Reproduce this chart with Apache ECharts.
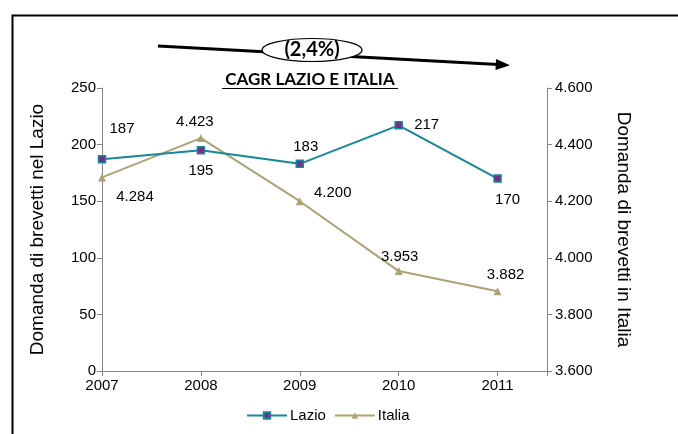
<!DOCTYPE html>
<html>
<head>
<meta charset="utf-8">
<script src="https://cdn.jsdelivr.net/npm/echarts@6/dist/echarts.min.js"></script>
<style>
  html, body { margin: 0; padding: 0; background: #fff; }
  #chart { width: 678px; height: 434px; }
</style>
</head>
<body>
<div id="chart"></div>
<script>
// Patent applications: Lazio (left axis) vs Italia (right axis)
const years = [2007, 2008, 2009, 2010, 2011];
const lazio = [187, 195, 183, 217, 170];
const italia = [4284, 4423, 4200, 3953, 3882];

// where each value label sits relative to its point (pixels)
const lazioLabelOffsets = [[20, -30], [0, 21], [6, -17], [28, 0], [10, 21]];
const italiaLabelOffsets = [[33, 19], [-6, -16], [33, -8], [1, -14], [8, -16]];

const FONT = '"Liberation Sans", Arial, sans-serif';
const TITLE_FONT = 'Lato, "Open Sans", sans-serif';
const AXIS_GREY = '#868686';
const TEAL = '#17879a';
const PURPLE = '#7a2a87';
const KHAKI = '#ada277';

// thousands with a dot, Italian style
function fmtIt(v) {
  const s = String(Math.round(v));
  return s.replace(/\B(?=(\d{3})+(?!\d))/g, '.');
}

const chart = echarts.init(document.getElementById('chart'), null, { renderer: 'canvas' });

const lazioData = years.map((y, i) => ({
  value: [y, lazio[i]],
  label: { offset: lazioLabelOffsets[i] }
}));
const italiaData = years.map((y, i) => ({
  value: [y, italia[i]],
  label: { offset: italiaLabelOffsets[i] }
}));

chart.setOption({
  animation: false,
  backgroundColor: '#ffffff',
  grid: { left: 102, right: 131, top: 88, bottom: 63, containLabel: false },
  legend: {
    left: 241,
    top: 403,
    itemWidth: 40,
    itemHeight: 8,
    itemGap: 8,
    textStyle: { fontFamily: FONT, fontSize: 15, color: '#000', padding: [0, 0, 0, -2] },
    data: ['Lazio', 'Italia']
  },
  xAxis: {
    type: 'value',
    min: 2007,
    max: 2011.5,
    interval: 1,
    axisLine: { lineStyle: { color: AXIS_GREY, width: 1 } },
    axisTick: { show: true, length: 5, lineStyle: { color: AXIS_GREY } },
    axisLabel: {
      margin: 7,
      fontFamily: FONT, fontSize: 15, color: '#000',
      formatter: v => (Number.isInteger(v) ? String(v) : '')
    },
    splitLine: { show: false }
  },
  yAxis: [
    {
      type: 'value',
      min: 0, max: 250, interval: 50,
      position: 'left',
      name: 'Domanda di brevetti nel Lazio',
      nameLocation: 'middle',
      nameGap: 55,
      nameTextStyle: { fontFamily: FONT, fontSize: 19, color: '#000' },
      axisLine: { show: true, lineStyle: { color: AXIS_GREY } },
      axisTick: { show: true, length: 5, lineStyle: { color: AXIS_GREY } },
      axisLabel: { margin: 6, fontFamily: FONT, fontSize: 15, color: '#000' },
      splitLine: { show: false }
    },
    {
      type: 'value',
      min: 3600, max: 4600, interval: 200,
      position: 'right',
      name: 'Domanda di brevetti in Italia',
      nameLocation: 'middle',
      nameGap: 67,
      nameRotate: -90,
      nameTextStyle: { fontFamily: FONT, fontSize: 19, color: '#000' },
      axisLine: { show: true, lineStyle: { color: AXIS_GREY } },
      axisTick: { show: true, length: 5, lineStyle: { color: AXIS_GREY } },
      axisLabel: { margin: 8, fontFamily: FONT, fontSize: 15, color: '#000', formatter: fmtIt },
      splitLine: { show: false }
    }
  ],
  series: [
    {
      name: 'Lazio',
      type: 'line',
      yAxisIndex: 0,
      data: lazioData,
      symbol: 'rect',
      symbolSize: 7,
      lineStyle: { color: TEAL, width: 2 },
      itemStyle: { color: PURPLE, borderColor: TEAL, borderWidth: 1.5 },
      label: {
        show: true,
        position: 'inside',
        fontFamily: FONT, fontSize: 15, color: '#000',
        formatter: p => fmtIt(p.value[1])
      },
      z: 3
    },
    {
      name: 'Italia',
      type: 'line',
      yAxisIndex: 1,
      data: italiaData,
      symbol: 'triangle',
      symbolSize: 8,
      lineStyle: { color: KHAKI, width: 2 },
      itemStyle: { color: KHAKI, borderColor: KHAKI, borderWidth: 0 },
      label: {
        show: true,
        position: 'inside',
        fontFamily: FONT, fontSize: 15, color: '#000',
        formatter: p => fmtIt(p.value[1])
      },
      z: 2
    }
  ],
  graphic: [
    // outer frame
    {
      type: 'rect', left: 10, top: 13, silent: true,
      shape: { x: 0, y: 0, width: 720, height: 460 },
      style: { fill: 'none', stroke: '#000', lineWidth: 2 }
    },
    // trend arrow
    {
      type: 'line', silent: true,
      shape: { x1: 158, y1: 46, x2: 498, y2: 64.5 },
      style: { stroke: '#000', lineWidth: 3 }
    },
    {
      type: 'polygon', silent: true,
      shape: { points: [[510, 65.3], [496, 59], [495.5, 70]] },
      style: { fill: '#000' }
    },
    // CAGR bubble
    {
      type: 'ellipse', silent: true,
      shape: { cx: 312, cy: 50, rx: 50, ry: 11.5 },
      style: { fill: '#fff', stroke: '#000', lineWidth: 1.2 }
    },
    {
      type: 'text', silent: true,
      x: 312, y: 50,
      style: {
        text: '(2,4%)', fill: '#000',
        font: 'bold 20px ' + TITLE_FONT,
        align: 'center', verticalAlign: 'middle'
      }
    },
    // title
    {
      type: 'text', silent: true,
      x: 310, y: 80,
      style: {
        text: 'CAGR LAZIO E ITALIA', fill: '#000',
        font: 'bold 17px ' + TITLE_FONT,
        align: 'center', verticalAlign: 'middle'
      }
    },
    {
      type: 'line', silent: true,
      shape: { x1: 222, y1: 88.5, x2: 398, y2: 88.5 },
      style: { stroke: '#000', lineWidth: 1 }
    }
  ]
});
</script>
</body>
</html>
